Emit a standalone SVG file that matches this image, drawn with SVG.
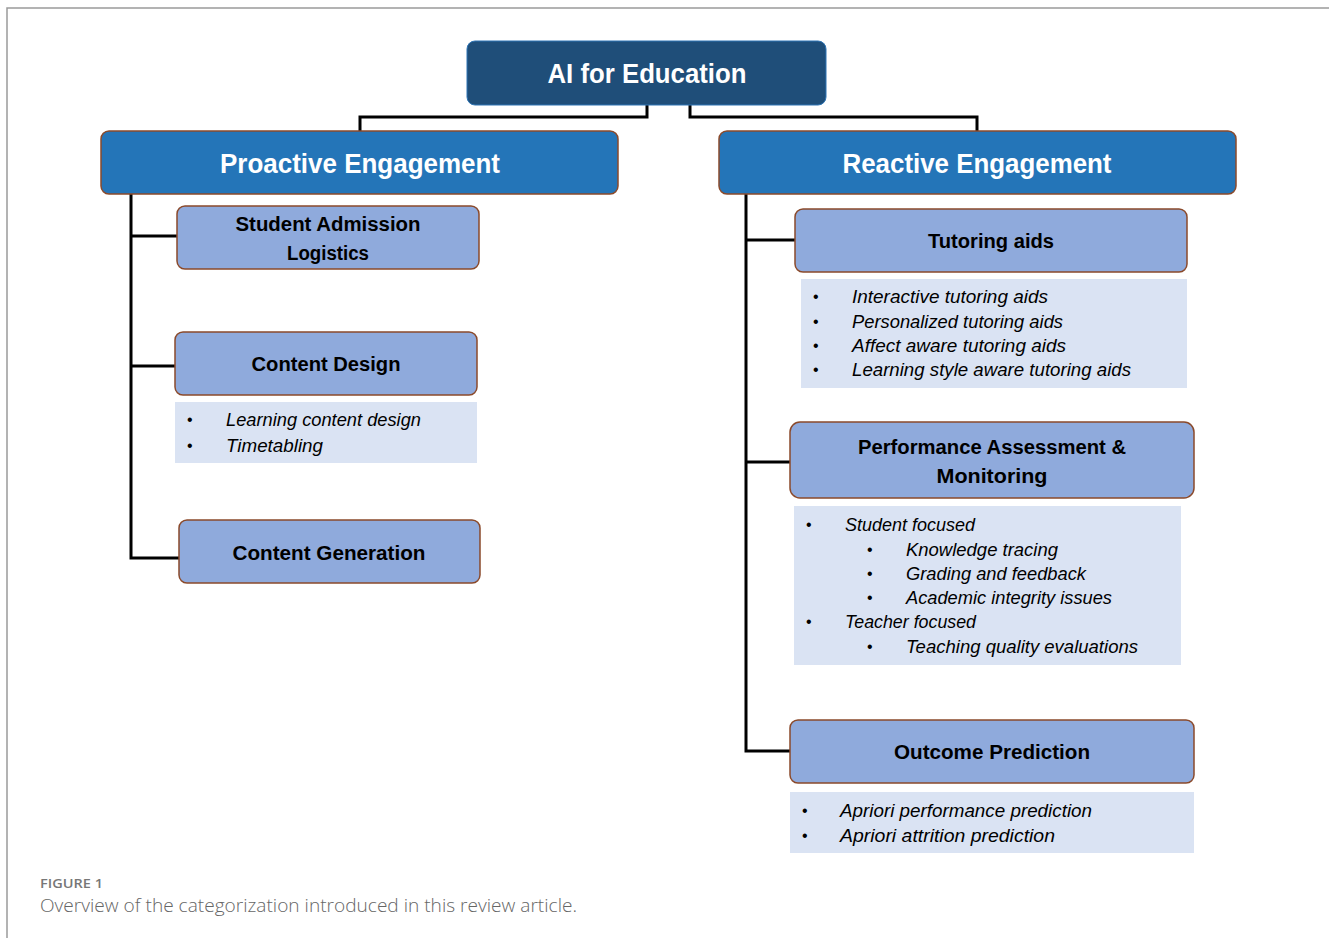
<svg xmlns="http://www.w3.org/2000/svg" width="1329" height="938" viewBox="0 0 1329 938">
<style>
.frame{stroke:#9a9a9a;stroke-width:1.5;fill:none}
.root{fill:#1F4E79;stroke:#2E75B6;stroke-width:1}
.l1{fill:#2475B8;stroke:#8B4A2B;stroke-width:1.5}
.l2{fill:#8FAADC;stroke:#8B4A2B;stroke-width:1.5}
.list{fill:#DAE3F3}
.conn{stroke:#000;stroke-width:3;fill:none}
.th{font-family:"Liberation Sans",Arial,sans-serif;font-weight:bold;fill:#fff;font-size:27px;text-anchor:middle}
.t2{font-family:"Liberation Sans",Arial,sans-serif;font-weight:bold;fill:#000;font-size:20px;text-anchor:middle}
.li{font-family:"Liberation Sans",Arial,sans-serif;font-style:italic;fill:#000;font-size:18px}
.bu{font-family:"Liberation Sans",Arial,sans-serif;fill:#000;font-size:16px}
.cap1{font-family:"Open Sans","Liberation Sans",sans-serif;fill:#777;font-size:13px;font-weight:600}
.cap2{font-family:"Open Sans","Liberation Sans",sans-serif;fill:#666;font-size:18px;font-weight:300}
</style>
<path class="frame" d="M7,938 V8 H1329"/>
<g id="connectors">
<path class="conn" d="M647,105 V117 H360 V131"/>
<path class="conn" d="M690,105 V117 H977 V131"/>
<path class="conn" d="M131,194 V558 H179"/>
<path class="conn" d="M131,236 H177"/>
<path class="conn" d="M131,366 H175"/>
<path class="conn" d="M746,194 V751 H790"/>
<path class="conn" d="M746,240 H795"/>
<path class="conn" d="M746,462 H790"/>
</g>
<g id="root">
<rect class="root" x="467" y="41" width="359" height="64" rx="8"/>
<text class="th" x="647" y="83" textLength="199" lengthAdjust="spacingAndGlyphs">AI for Education</text>
</g>
<g id="proactive">
<rect class="l1" x="101" y="131" width="517" height="63" rx="8"/>
<text class="th" x="360" y="173" textLength="280" lengthAdjust="spacingAndGlyphs">Proactive Engagement</text>
</g>
<g id="reactive">
<rect class="l1" x="719" y="131" width="517" height="63" rx="8"/>
<text class="th" x="977" y="173" textLength="269" lengthAdjust="spacingAndGlyphs">Reactive Engagement</text>
</g>
<g id="admission">
<rect class="l2" x="177" y="206" width="302" height="63" rx="8"/>
<text class="t2" x="328" y="231" textLength="185" lengthAdjust="spacingAndGlyphs">Student Admission</text>
<text class="t2" x="328" y="260" textLength="82" lengthAdjust="spacingAndGlyphs">Logistics</text>
</g>
<g id="content-design">
<rect class="l2" x="175" y="332" width="302" height="63" rx="8"/>
<text class="t2" x="326" y="371" textLength="149" lengthAdjust="spacingAndGlyphs">Content Design</text>
<rect class="list" x="175" y="402" width="302" height="61"/>
<text class="bu" x="187" y="425">•</text>
<text class="li" x="226" y="426" textLength="195" lengthAdjust="spacingAndGlyphs">Learning content design</text>
<text class="bu" x="187" y="451">•</text>
<text class="li" x="226" y="452" textLength="97" lengthAdjust="spacingAndGlyphs">Timetabling</text>
</g>
<g id="content-generation">
<rect class="l2" x="179" y="520" width="301" height="63" rx="8"/>
<text class="t2" x="329" y="560" textLength="193" lengthAdjust="spacingAndGlyphs">Content Generation</text>
</g>
<g id="tutoring">
<rect class="l2" x="795" y="209" width="392" height="63" rx="8"/>
<text class="t2" x="991" y="248" textLength="126" lengthAdjust="spacingAndGlyphs">Tutoring aids</text>
<rect class="list" x="801" y="279" width="386" height="109"/>
<text class="bu" x="813" y="302">•</text>
<text class="li" x="852" y="303" textLength="196" lengthAdjust="spacingAndGlyphs">Interactive tutoring aids</text>
<text class="bu" x="813" y="327">•</text>
<text class="li" x="852" y="328" textLength="211" lengthAdjust="spacingAndGlyphs">Personalized tutoring aids</text>
<text class="bu" x="813" y="351">•</text>
<text class="li" x="852" y="352" textLength="214" lengthAdjust="spacingAndGlyphs">Affect aware tutoring aids</text>
<text class="bu" x="813" y="375">•</text>
<text class="li" x="852" y="376" textLength="279" lengthAdjust="spacingAndGlyphs">Learning style aware tutoring aids</text>
</g>
<g id="performance">
<rect class="l2" x="790" y="422" width="404" height="76" rx="10"/>
<text class="t2" x="992" y="454" textLength="268" lengthAdjust="spacingAndGlyphs">Performance Assessment &amp;</text>
<text class="t2" x="992" y="483" textLength="111" lengthAdjust="spacingAndGlyphs">Monitoring</text>
<rect class="list" x="794" y="506" width="387" height="159"/>
<text class="bu" x="806" y="530">•</text>
<text class="li" x="845" y="531" textLength="130" lengthAdjust="spacingAndGlyphs">Student focused</text>
<text class="bu" x="867" y="555">•</text>
<text class="li" x="906" y="556" textLength="152" lengthAdjust="spacingAndGlyphs">Knowledge tracing</text>
<text class="bu" x="867" y="579">•</text>
<text class="li" x="906" y="580" textLength="180" lengthAdjust="spacingAndGlyphs">Grading and feedback</text>
<text class="bu" x="867" y="603">•</text>
<text class="li" x="906" y="604" textLength="206" lengthAdjust="spacingAndGlyphs">Academic integrity issues</text>
<text class="bu" x="806" y="627">•</text>
<text class="li" x="845" y="628" textLength="131" lengthAdjust="spacingAndGlyphs">Teacher focused</text>
<text class="bu" x="867" y="652">•</text>
<text class="li" x="906" y="653" textLength="232" lengthAdjust="spacingAndGlyphs">Teaching quality evaluations</text>
</g>
<g id="outcome">
<rect class="l2" x="790" y="720" width="404" height="63" rx="8"/>
<text class="t2" x="992" y="759" textLength="196" lengthAdjust="spacingAndGlyphs">Outcome Prediction</text>
<rect class="list" x="790" y="792" width="404" height="61"/>
<text class="bu" x="802" y="816">•</text>
<text class="li" x="840" y="817" textLength="252" lengthAdjust="spacingAndGlyphs">Apriori performance prediction</text>
<text class="bu" x="802" y="841">•</text>
<text class="li" x="840" y="842" textLength="215" lengthAdjust="spacingAndGlyphs">Apriori attrition prediction</text>
</g>
<g id="caption">
<text class="cap1" x="40" y="888" textLength="63" lengthAdjust="spacingAndGlyphs">FIGURE 1</text>
<text class="cap2" x="40" y="912" textLength="537" lengthAdjust="spacingAndGlyphs">Overview of the categorization introduced in this review article.</text>
</g>
</svg>
